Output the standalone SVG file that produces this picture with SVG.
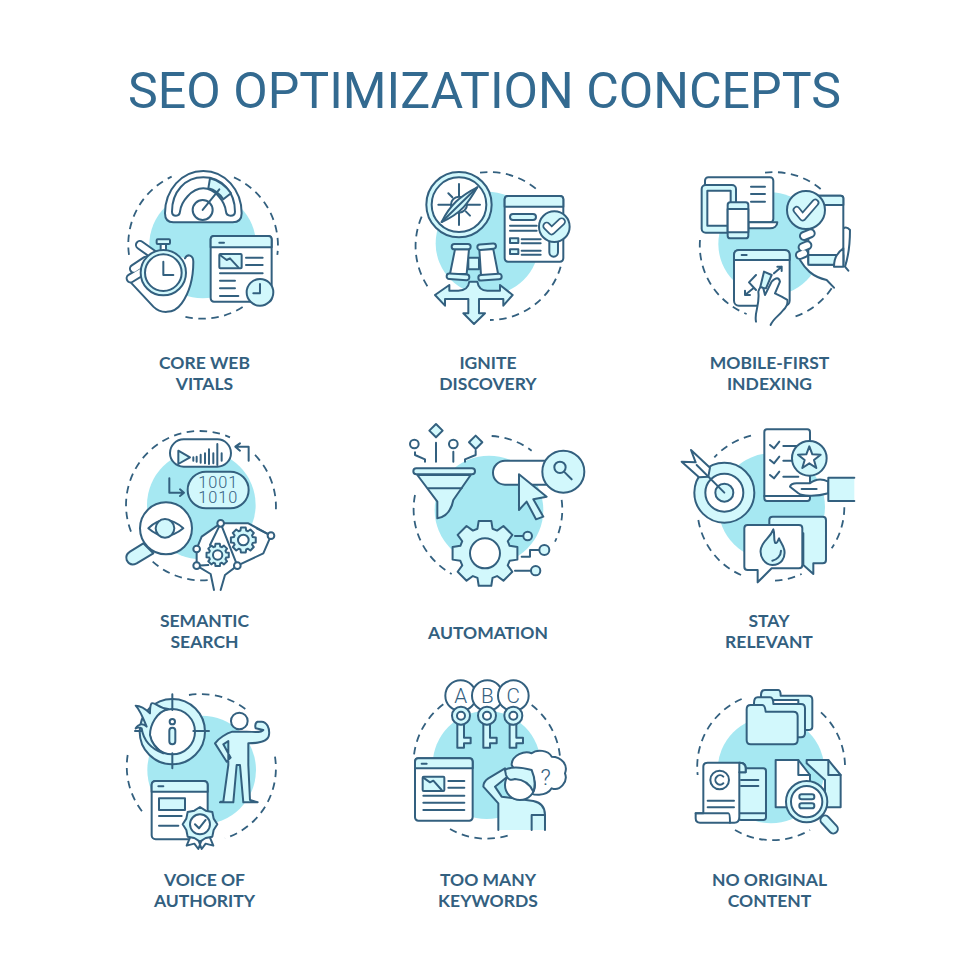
<svg xmlns="http://www.w3.org/2000/svg" xmlns:xlink="http://www.w3.org/1999/xlink" width="980" height="980" viewBox="0 0 980 980">
<style>
.bg{fill:#a6e8f2;stroke:none}
.d{fill:none;stroke:#33607f;stroke-width:1.8;stroke-dasharray:7.5 5.5;vector-effect:non-scaling-stroke}
.l,.f,.w{stroke:#33607f;stroke-width:2;stroke-linejoin:round;stroke-linecap:round;vector-effect:non-scaling-stroke}
.l{fill:none}.f{fill:#d2f8fc}.w{fill:#fff}
.nf{stroke:none}
.po,.pw,.pf{fill:none;stroke-linecap:round;stroke-linejoin:round;vector-effect:non-scaling-stroke}
.po{stroke:#33607f;stroke-width:10}.pw{stroke:#fff;stroke-width:6}.pf{stroke:#d2f8fc;stroke-width:6}
.t{font-family:Roboto,"Liberation Sans",sans-serif;fill:#336a90;font-size:50.1px;text-anchor:middle}
.n{font-family:Lato,"Liberation Sans",sans-serif;font-weight:700;fill:#33607f;font-size:17.5px;text-anchor:middle}
.g{font-family:Roboto,"Liberation Sans",sans-serif;font-weight:300;fill:#33607f;text-anchor:middle}
</style>
<defs>
<polygon id="gear" class="f" points="74.6,-22.8 98.2,-19.1 98.2,19.1 74.6,22.8 68.9,36.6 82.9,55.9 55.9,82.9 36.6,68.9 22.8,74.6 19.1,98.2 -19.1,98.2 -22.8,74.6 -36.6,68.9 -55.9,82.9 -82.9,55.9 -68.9,36.6 -74.6,22.8 -98.2,19.1 -98.2,-19.1 -74.6,-22.8 -68.9,-36.6 -82.9,-55.9 -55.9,-82.9 -36.6,-68.9 -22.8,-74.6 -19.1,-98.2 19.1,-98.2 22.8,-74.6 36.6,-68.9 55.9,-82.9 82.9,-55.9 68.9,-36.6"/>
</defs>
<rect width="980" height="980" fill="#fff"/>
<text id="title" class="t" x="484.5" y="108">SEO OPTIMIZATION CONCEPTS</text>

<g id="core-web-vitals">
<g transform="translate(110 160) scale(.3333)">
<circle class="bg" cx="278" cy="255" r="160"/>
<path class="d" d="M372 52A224 224 0 0 1 502 285M398 441A224 224 0 0 1 225 470M57 285A224 224 0 0 1 185 50"/>
<path class="w" d="M190 187H368Q395 187 395 160C395 90 345 33 280 33C215 33 165 90 165 160Q165 187 190 187Z"/>
<path class="w" d="M186 155C186 95 225 52 280 52C335 52 375 95 375 155Q375 167 362 167Q349 167 348 155C345 125 315 85 280 85C245 85 213 125 210 155Q209 167 198 167Q186 167 186 155Z"/>
<path class="f" d="M300 55C325 60 350 80 363 100L340 118C330 103 315 90 295 85Z"/>
<circle class="l" cx="278" cy="150" r="30"/>
<path class="l" d="M278 150L328 88"/>
<path class="w nf" d="M60 365L130 440C150 460 190 465 215 430C240 395 250 350 250 305C250 285 232 280 225 295L180 280L100 300Z"/>
<path class="l" d="M60 365L130 440C150 460 190 465 215 430C240 395 250 350 250 305C250 285 232 280 225 295"/>
<path class="po" d="M90 255L128 282M72 326L108 302M62 355L98 333"/><path class="pw" d="M90 255L128 282M72 326L108 302M62 355L98 333"/>
<rect class="f" x="140" y="238" width="40" height="14" rx="3"/><rect class="w" x="152" y="252" width="16" height="20"/>
<circle class="f" cx="160" cy="338" r="68"/><circle class="w" cx="160" cy="338" r="55"/>
<path class="l" d="M160 305V345H190"/>
<rect class="w" x="302" y="228" width="183" height="197" rx="10"/>
<path class="f" d="M302 262V238Q302 228 312 228H475Q485 228 485 238V262Z"/>
<path class="l" d="M328 248H342"/>
<rect class="f" x="328" y="282" width="67" height="43" rx="3"/>
<path class="l" d="M330 285L350 300L360 295L385 322M408 293H458M408 315H458M330 340H458M330 362H375M330 385H375M330 408H385"/>
<circle class="f" cx="450" cy="397" r="40"/><path class="l" d="M450 372V400H430"/>
</g>
<text class="n" x="204.5" y="368.5">CORE WEB</text><text class="n" x="204.5" y="389.5">VITALS</text>
</g>

<g id="ignite-discovery">
<g transform="translate(400 160) scale(.3333)">
<circle class="bg" cx="262" cy="250" r="155"/>
<path class="d" d="M240 38A222 222 0 0 1 410 88M482 320A222 222 0 0 1 270 480M65 170A222 222 0 0 0 90 390"/>
<circle class="f" cx="177" cy="134" r="98"/><circle class="w" cx="177" cy="134" r="82"/>
<path class="l" d="M177 72V195M115 134H240M145 100L157 112M210 167L198 155M205 100L195 112M148 166L158 156"/>
<circle class="w" cx="177" cy="134" r="24"/>
<path class="f" d="M232 82C205 128 185 160 125 186C150 135 180 108 232 82Z"/>
<path class="l" d="M232 82L125 186"/>
<rect class="w" x="314" y="108" width="176" height="197" rx="10"/>
<path class="f" d="M314 140V118Q314 108 324 108H480Q490 108 490 118V140Z"/>
<rect class="f" x="330" y="162" width="78" height="18" rx="9"/>
<path class="l" d="M330 197H410M330 212H410M365 238H422M365 250H422M365 272H422M365 284H422"/>
<rect class="f" x="330" y="235" width="25" height="14"/><rect class="f" x="330" y="268" width="25" height="14"/>
<rect class="f" x="448" y="230" width="26" height="60" rx="13"/>
<circle class="f" cx="463" cy="200" r="46"/>
<path class="po" style="stroke-width:8.5" d="M440 198L455 213L485 185"/><path class="pw" style="stroke-width:5" d="M440 198L455 213L485 185"/>
<path class="f" d="M208 365C205 385 195 392 175 392H148V375L105 405L135 437V417H205V460H190L222 492L255 460H237V417H310V437L338 405L300 375V392H262C245 392 235 385 232 365Z"/>
<rect class="f" x="205" y="293" width="32" height="35"/>
<path class="w" d="M165 268L150 342H200L207 268Z"/><path class="w" d="M238 268L243 345H295L280 268Z"/>
<rect class="f" x="155" y="252" width="57" height="16" rx="8"/><rect class="f" x="232" y="252" width="56" height="16" rx="8" transform="rotate(-5 260 260)"/>
<rect class="f" x="140" y="342" width="68" height="17" rx="8" transform="rotate(4 174 350)"/><rect class="f" x="235" y="343" width="70" height="17" rx="8" transform="rotate(-4 270 351)"/>
</g>
<text class="n" x="488" y="368.5">IGNITE</text><text class="n" x="488" y="389.5">DISCOVERY</text>
</g>

<g id="mobile-first-indexing">
<g transform="translate(680 160) scale(.3333)">
<circle class="bg" cx="270" cy="252" r="155"/>
<path class="d" d="M255 38A220 220 0 0 1 428 92M455 385A220 220 0 0 1 345 470M60 240A220 220 0 0 0 200 462"/>
<rect class="w" x="75" y="52" width="205" height="135" rx="10"/>
<path class="w" d="M205 187H292C292 200 280 205 270 205H205Z"/>
<path class="l" d="M213 80H255M213 102H255M213 125H255"/>
<rect class="f" x="65" y="75" width="103" height="143" rx="12"/><rect class="w" x="82" y="92" width="70" height="105"/>
<rect class="f" x="143" y="127" width="62" height="108" rx="8"/><rect class="w" x="143" y="147" width="62" height="70"/>
<path class="w nf" d="M490 205Q500 198 510 210C510 240 505 290 495 320L505 335L462 383L440 360C395 350 375 325 360 300L385 200Z"/>
<path class="l" d="M490 205Q500 198 510 210C510 240 505 290 495 320L505 332M462 383L440 360C395 350 375 325 360 300"/>
<rect class="w" x="385" y="107" width="105" height="207" rx="8"/>
<path class="f" d="M385 135V115Q385 107 393 107H482Q490 107 490 115V135Z"/><path class="f" d="M385 285H490V314H385Z"/>
<path class="w" d="M490 265V320H462C462 290 475 275 490 265Z"/>
<circle class="f" cx="378" cy="150" r="57"/>
<path class="po" style="stroke-width:8" d="M350 150L368 172L406 128"/><path class="pw" style="stroke-width:4.5" d="M350 150L368 172L406 128"/>
<path class="po" d="M372 228L392 220M368 262L382 256M360 285L372 280"/><path class="pw" d="M372 228L392 220M368 262L382 256M360 285L372 280"/>
<rect class="w" x="162" y="270" width="167" height="167" rx="15"/>
<path class="f" d="M162 300V285Q162 270 177 270H314Q329 270 329 285V300Z"/>
<path class="l" d="M185 285H200M228 345L207 367L228 390M195 405L220 385M195 405H210M195 405V392M282 340L305 320M305 320H292M305 320V333"/>
<path class="f" d="M252 335L240 385H258L275 345Z"/>
<path class="w" d="M228 485C222 455 240 440 235 395Q240 375 250 385L255 405L275 365Q295 345 300 365L285 400L305 410L322 420Q325 435 310 450C295 470 280 475 272 495"/>
</g>
<text class="n" x="769.5" y="368.5">MOBILE-FIRST</text><text class="n" x="769.5" y="389.5">INDEXING</text>
</g>

<g id="semantic-search">
<g transform="translate(110 420) scale(.3333)">
<circle class="bg" cx="274" cy="255" r="163"/>
<path class="d" d="M63 335A222 222 0 0 1 360 52M435 105A222 222 0 0 1 497 280M128 425A222 222 0 0 0 300 480"/>
<rect class="w" x="180" y="58" width="183" height="82" rx="41"/>
<path class="f" d="M205 92L240 112L205 132Z"/>
<path class="l" d="M250 112V122M260 110V125M272 104V128M285 100V130M297 88V132M310 100V130M322 72V135M335 100V122"/>
<rect class="f" x="233" y="155" width="183" height="110" rx="55"/>
<text class="g" font-size="49" letter-spacing="3"><tspan x="325" y="205">1001</tspan><tspan x="325" y="250">1010</tspan></text>
<path class="l" d="M178 175V218H220M210 208L222 218L210 228M416 122V80H378M390 70L376 80L390 92"/>
<path class="f" d="M100 370L130 400L80 430Q60 440 50 420Q45 405 60 395Z"/>
<circle class="w" cx="168" cy="325" r="78"/>
<path class="w" d="M115 325Q165 275 220 325Q165 370 115 325Z"/><circle class="f" cx="165" cy="325" r="28"/>
<path class="w nf" d="M332 310H415L483 347L460 400L382 437L350 465L332 510H312L300 455L260 437V387L275 350Z"/>
<path class="l" d="M332 310H415L483 347L460 400L382 437L345 465L332 510M312 510L302 462L260 437V387L275 350L332 310"/>
<path class="l" d="M332 310L382 437M332 310L300 375M483 347L440 325M260 437L295 435"/>
<use href="#gear" transform="translate(323 405) scale(.34)"/><circle class="w" cx="323" cy="405" r="14"/>
<use href="#gear" transform="translate(400 360) scale(.38)"/><circle class="w" cx="400" cy="360" r="16"/>
<circle class="w" cx="332" cy="310" r="10"/><circle class="w" cx="483" cy="347" r="10"/><circle class="w" cx="382" cy="437" r="10"/><circle class="w" cx="260" cy="387" r="10"/><circle class="w" cx="260" cy="437" r="10"/>
</g>
<text class="n" x="204.5" y="627">SEMANTIC</text><text class="n" x="204.5" y="648">SEARCH</text>
</g>

<g id="automation">
<g transform="translate(400 420) scale(.3333)">
<circle class="bg" cx="267" cy="270" r="163"/>
<path class="d" d="M275 48A222 222 0 0 1 395 92M485 240A222 222 0 0 1 465 365M45 225A222 222 0 0 0 155 462"/>
<path class="f" d="M52 165H212L160 240C155 265 145 290 112 295V245Z"/>
<path class="l" d="M85 205H185"/>
<rect class="f" x="40" y="145" width="185" height="18" rx="9"/>
<circle class="w" cx="43" cy="72" r="13"/><circle class="w" cx="160" cy="72" r="13"/>
<path class="f" d="M108 12L128 32L108 52L88 32Z"/><path class="f" d="M227 47L247 67L227 87L207 67Z"/>
<path class="l" d="M108 68V125M160 95V125M45 97V105L75 118V125M227 92V105L195 118V125"/>
<path class="w" d="M440 122H315A36 36 0 0 0 315 194H440"/>
<circle class="f" cx="490" cy="155" r="63"/><circle class="l" cx="480" cy="142" r="17"/><path class="l" d="M492 155L515 178"/>
<path class="f" d="M357 163L440 230L400 238L430 290L408 298L380 245L357 270Z"/>
<use href="#gear" transform="translate(255 400) scale(.99)"/><circle class="w" cx="255" cy="400" r="45"/>
<path class="l" d="M345 348H370M365 410H390V390H418M345 452H393"/>
<circle class="f" cx="383" cy="348" r="13"/><circle class="f" cx="433" cy="390" r="15"/><circle class="f" cx="407" cy="452" r="14"/>
</g>
<text class="n" x="488" y="638.5">AUTOMATION</text>
</g>

<g id="stay-relevant">
<g transform="translate(675 420) scale(.3333)">
<circle class="bg" cx="290" cy="260" r="160"/>
<path class="d" d="M228 47A220 220 0 0 0 118 112M508 262A220 220 0 0 1 470 385M70 300A220 220 0 0 0 210 470M300 482A220 220 0 0 0 380 462"/>
<circle class="f" cx="148" cy="218" r="90"/><circle class="w" cx="148" cy="218" r="57"/><circle class="f" cx="148" cy="218" r="27"/>
<path class="w" d="M20 125L62 127L48 90L105 143L100 170L72 172Z"/><path class="l" d="M148 218L65 135"/>
<rect class="w" x="268" y="28" width="137" height="215" rx="8"/>
<path class="l" d="M268 228H405M285 75L297 85L313 65M285 120L297 130L313 110M285 165L297 175L313 155M325 78H390M325 122H365M325 170H370"/>
<circle class="f" cx="403" cy="115" r="52"/>
<path class="w" d="M403 79L412 103L437 104L417 120L424 144L403 130L382 144L389 120L369 104L394 103Z"/>
<path class="w" d="M460 185C440 175 420 178 405 190H365Q348 190 345 200L370 220C380 228 420 232 460 220Z"/>
<path class="l" d="M380 207H425"/>
<path class="f nf" d="M538 173H460V243H538Z"/><path class="l" d="M538 173H460V243H538"/>
<path class="f" d="M283 300Q283 290 293 290H443Q453 290 453 300V420Q453 430 443 430H415V462L385 435V340H283Z"/>
<path class="w" d="M208 325Q208 315 218 315H372Q382 315 382 325V435Q382 445 372 445H290L248 487V450H218Q208 450 208 440Z"/>
<path class="f" d="M295 328C285 355 265 360 258 385C252 410 270 435 292 435C318 435 332 415 328 390C325 375 318 370 312 355C308 365 305 372 300 368C295 355 300 340 295 328Z"/>
<path class="l" d="M318 392C318 408 305 420 292 422"/>
</g>
<text class="n" x="769" y="627">STAY</text><text class="n" x="769" y="648">RELEVANT</text>
</g>

<g id="voice-of-authority">
<g transform="translate(115 685) scale(.3333)">
<circle class="bg" cx="260" cy="255" r="163"/>
<path class="d" d="M222 30A221 221 0 0 1 395 75M480 215A221 221 0 0 1 330 460M38 210A221 221 0 0 0 90 390"/>
<circle class="f" cx="172" cy="140" r="98"/><circle class="w" cx="172" cy="140" r="68"/>
<path class="l" d="M172 28V75M172 205V250M235 138H282M60 138H105"/>
<path class="f" d="M110 55C120 50 130 70 160 72C125 80 105 120 105 150C110 180 130 195 145 205C105 190 85 165 80 130C70 125 65 128 62 130C72 115 85 115 95 125C85 100 75 75 62 62C80 62 100 80 105 85C105 75 105 60 110 55Z"/>
<circle class="l" cx="172" cy="110" r="8"/><rect class="f" x="163" y="128" width="18" height="50" rx="9"/>
<circle class="w" cx="373" cy="108" r="25"/>
<path class="f" d="M352 140C335 145 310 160 300 175C310 190 325 215 335 230L347 218L325 178L340 168V240L325 350H318L315 352H355L365 240H375L385 352H428L405 345L400 240V175C425 175 460 170 462 150C465 130 455 110 440 110H428Q418 115 422 130L445 135C440 145 415 140 395 140Z"/>
<rect class="w" x="110" y="288" width="168" height="175" rx="12"/>
<path class="f" d="M110 320V300Q110 288 122 288H266Q278 288 278 300V320Z"/>
<path class="l" d="M130 304H145M132 393H200M132 422H190"/>
<rect class="f" x="132" y="340" width="78" height="35"/>
<path class="w" d="M225 458L215 482L238 476L250 492L260 465M285 458L295 482L272 476L260 492L250 465"/>
<polygon class="f" points="307,418 296,435 292,455 272,459 255,470 238,459 218,455 214,435 203,418 214,401 218,381 238,377 255,366 272,377 292,381 296,401"/>
<circle class="w" cx="255" cy="418" r="30"/><path class="l" d="M240 418L252 430L272 405"/>
</g>
<text class="n" x="204.5" y="886">VOICE OF</text><text class="n" x="204.5" y="907">AUTHORITY</text>
</g>

<g id="too-many-keywords">
<g transform="translate(400 675) scale(.3333)">
<circle class="bg" cx="260" cy="270" r="162"/>
<path class="d" d="M130 88A222 222 0 0 0 42 240M395 90A222 222 0 0 1 480 245M150 462A222 222 0 0 0 335 478"/>
<circle class="w" cx="182" cy="62" r="46"/><circle class="w" cx="262" cy="62" r="46"/><circle class="w" cx="340" cy="62" r="46"/>
<text class="g" x="182" y="84" font-size="62">A</text><text class="g" x="262" y="84" font-size="62">B</text><text class="g" x="340" y="84" font-size="62">C</text>
<g><path class="f" d="M172 148V218H192V205H212V188H192V148Z"/><circle class="f" cx="183" cy="122" r="27"/><circle class="w" cx="183" cy="122" r="12"/></g>
<g><path class="f" d="M250 148V218H270V205H290V188H270V148Z"/><circle class="f" cx="261" cy="122" r="27"/><circle class="w" cx="261" cy="122" r="12"/></g>
<g><path class="f" d="M329 148V218H349V205H369V188H349V148Z"/><circle class="f" cx="340" cy="122" r="27"/><circle class="w" cx="340" cy="122" r="12"/></g>
<rect class="w" x="45" y="250" width="173" height="187" rx="10"/>
<path class="f" d="M45 280V260Q45 250 55 250H208Q218 250 218 260V280Z"/>
<rect class="f" x="68" y="305" width="65" height="43" rx="3"/>
<path class="l" d="M65 266H80M70 308L90 322L100 317L125 345M145 318H193M145 338H193M70 362H193M70 383H193M70 405H193"/>
<path class="w" d="M335 270C335 240 375 225 395 235C410 222 445 225 455 245C485 245 505 270 495 295C505 320 480 350 455 340C440 365 395 365 380 345Z"/>
<text class="g" x="437" y="330" font-size="68">?</text>
<path class="f" d="M295 465V385L250 335Q250 320 265 310L315 280L322 305L285 335L305 365L400 378Q435 385 435 420V465"/>
<circle class="w" cx="360" cy="330" r="45"/>
<path class="f" d="M315 285Q340 270 395 285Q410 320 400 350Q385 315 345 312Q325 320 318 300Z"/>
<path class="l" d="M395 465V420H435"/>
</g>
<text class="n" x="488" y="886">TOO MANY</text><text class="n" x="488" y="907">KEYWORDS</text>
</g>

<g id="no-original-content">
<g transform="translate(685 680) scale(.3333)">
<circle class="bg" cx="258" cy="270" r="160"/>
<path class="d" d="M170 57A222 222 0 0 0 38 285M408 97A222 222 0 0 1 480 255M150 450A222 222 0 0 0 375 450"/>
<path class="f" d="M228 45Q228 30 240 30H280Q287 30 287 47H370Q382 47 382 60V140Q382 150 370 150H340V60H228Z"/>
<path class="f" d="M207 70Q207 52 218 52H255Q265 52 265 72H348Q360 72 360 85V160Q360 172 348 172H207Z"/>
<path class="f" d="M185 88Q185 75 197 75H232Q240 75 242 95H325Q338 95 338 108V180Q338 193 325 193H197Q185 193 185 180Z"/>
<path class="f" d="M365 240H430L467 285V382H420V300L365 250Z"/>
<path class="l" d="M430 240V285H467"/>
<path class="w" d="M272 240H340L375 285V382H272Z"/><path class="l" d="M340 240V285H375"/>
<path class="po" style="stroke-width:11" d="M420 420L445 447"/><path class="pf" style="stroke-width:7" d="M420 420L445 447"/>
<circle class="f" cx="365" cy="365" r="62"/><circle class="w" cx="365" cy="365" r="47"/>
<rect class="f" x="343" y="343" width="45" height="15" rx="7"/><rect class="f" x="343" y="370" width="45" height="15" rx="7"/>
<rect class="f" x="160" y="265" width="83" height="155" rx="8"/>
<path class="l" d="M168 300H220M168 318H220M165 400H243"/>
<path class="w" d="M55 260Q55 248 68 248H165Q182 248 182 265V277H163V410Q163 428 148 428H45Q32 428 32 415V400H55Z"/>
<path class="f" d="M163 248Q182 248 182 265V277H163Z"/>
<path class="l" d="M32 400H130Q135 400 135 428"/>
<circle class="l" cx="104" cy="300" r="28"/><path class="l" d="M115 290A14 14 0 1 0 115 310M68 362H147M68 382H147"/>
</g>
<text class="n" x="769.5" y="886">NO ORIGINAL</text><text class="n" x="769.5" y="907">CONTENT</text>
</g>
</svg>
